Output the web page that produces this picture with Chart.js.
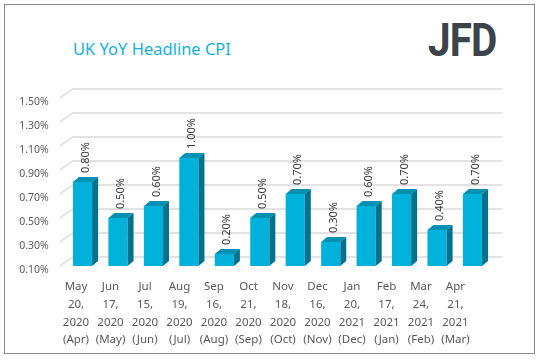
<!DOCTYPE html>
<html>
<head>
<meta charset="utf-8">
<script src="https://cdn.jsdelivr.net/npm/chart.js@4.4.1/dist/chart.umd.min.js"></script>
<style>
  html, body { margin: 0; padding: 0; background: #fff; }
  #wrap { position: relative; width: 542px; height: 361px; overflow: hidden; }
  #frame { position: absolute; left: 4px; top: 4px; width: 531px; height: 350px; border: 1px solid #8c8c8c; box-sizing: border-box; }
  #title { position: absolute; left: 73px; top: 37px; font-family: "Noto Sans", sans-serif; font-size: 16.5px; color: #17b0d9; white-space: nowrap; }
  #logo { position: absolute; left: 428px; top: 12px; font-family: Roboto, sans-serif; font-weight: bold; font-size: 47px; color: #3d434a; transform: scaleX(0.86); transform-origin: left top; letter-spacing: -1px; line-height: 1.2; }
  canvas { position: absolute; left: 0; top: 0; }
</style>
</head>
<body>
<div id="wrap">
  <div id="frame"></div>
  <div id="title">UK YoY Headline CPI</div>
  <div id="logo">JFD</div>
  <canvas id="cpiChart" width="542" height="361"></canvas>
</div>
<script>
// Datos
const etiquetas = [
  ["May", "20,", "2020", "(Apr)"],
  ["Jun", "17,", "2020", "(May)"],
  ["Jul", "15,", "2020", "(Jun)"],
  ["Aug", "19,", "2020", "(Jul)"],
  ["Sep", "16,", "2020", "(Aug)"],
  ["Oct", "21,", "2020", "(Sep)"],
  ["Nov", "18,", "2020", "(Oct)"],
  ["Dec", "16,", "2020", "(Nov)"],
  ["Jan", "20,", "2021", "(Dec)"],
  ["Feb", "17,", "2021", "(Jan)"],
  ["Mar", "24,", "2021", "(Feb)"],
  ["Apr", "21,", "2021", "(Mar)"]
];
const valoresCPI = [0.8, 0.5, 0.6, 1.0, 0.2, 0.5, 0.7, 0.3, 0.6, 0.7, 0.4, 0.7];
const ejeMin = 0.1;
const ejeMax = 1.5;
const ejePaso = 0.2;

// colores de las caras de la barra
const colorFrente = "#00b2db";
const colorLado = "#00728e";
const colorTecho = "#0090b2";

// profundidad del efecto 3D
const prof = { dx: 6, dy: 5 };
const pared = { dx: 13, dy: 9 };

// Plugin: rejilla en "perspectiva", caras 3D, etiquetas
const rejilla3D = {
  id: "rejilla3D",
  beforeDatasetsDraw(chart) {
    const { ctx, chartArea, scales } = chart;
    const y = scales.y;
    ctx.save();
    ctx.strokeStyle = "#d9d9d9";
    ctx.lineWidth = 1.3;
    y.ticks.forEach(t => {
      const py = y.getPixelForValue(t.value);
      const x0 = chartArea.left - 5;
      ctx.beginPath();
      ctx.moveTo(x0, py);
      ctx.lineTo(x0 + pared.dx, py - pared.dy);
      ctx.lineTo(chartArea.right + 12, py - pared.dy);
      ctx.stroke();
    });
    ctx.restore();
  },
  afterDatasetsDraw(chart) {
    const { ctx, chartArea, scales } = chart;
    const meta = chart.getDatasetMeta(0);
    const fondo = scales.y.getPixelForValue(ejeMin);
    ctx.save();
    meta.data.forEach((bar, i) => {
      const half = bar.width / 2;
      const l = bar.x - half, r = bar.x + half;
      const top = bar.y, base = Math.min(bar.base, fondo);
      // techo
      ctx.fillStyle = colorTecho;
      ctx.beginPath();
      ctx.moveTo(l, top);
      ctx.lineTo(l + prof.dx, top - prof.dy);
      ctx.lineTo(r + prof.dx, top - prof.dy);
      ctx.lineTo(r, top);
      ctx.closePath();
      ctx.fill();
      // lado
      ctx.fillStyle = colorLado;
      ctx.beginPath();
      ctx.moveTo(r, top);
      ctx.lineTo(r + prof.dx, top - prof.dy);
      ctx.lineTo(r + prof.dx, base - prof.dy);
      ctx.lineTo(r, base);
      ctx.closePath();
      ctx.fill();
      // etiqueta de valor (rotada)
      ctx.save();
      ctx.translate(bar.x + prof.dx / 2, top - prof.dy - 4);
      ctx.rotate(-Math.PI / 2);
      ctx.fillStyle = "#404040";
      ctx.font = "11px 'Noto Sans', sans-serif";
      ctx.textAlign = "left";
      ctx.textBaseline = "middle";
      ctx.fillText(valoresCPI[i].toFixed(2) + "%", 0, 0);
      ctx.restore();
    });
    ctx.restore();

    // etiquetas de categoría: en el plano frontal del suelo, algo más juntas que las barras
    const x = scales.x;
    const w = (chartArea.right - chartArea.left) / etiquetas.length;
    const ref = chartArea.left + w / 2;
    ctx.save();
    ctx.fillStyle = "#595959";
    ctx.font = "11.5px 'Noto Sans', sans-serif";
    ctx.textAlign = "center";
    ctx.textBaseline = "middle";
    etiquetas.forEach((lineas, i) => {
      const px = ref - 6.5 + (x.getPixelForTick(i) - ref) * 0.973;
      lineas.forEach((txt, k) => {
        ctx.fillText(txt, px, chartArea.bottom + 21 + k * 17.7);
      });
    });
    ctx.restore();
  }
};

new Chart(document.getElementById("cpiChart"), {
  type: "bar",
  data: {
    labels: etiquetas,
    datasets: [{
      data: valoresCPI,
      backgroundColor: colorFrente,
      borderWidth: 0,
      categoryPercentage: 1,
      barPercentage: 0.54
    }]
  },
  options: {
    responsive: false,
    animation: false,
    layout: { padding: { top: 98, right: 51.8, bottom: 0, left: 0 } },
    plugins: {
      legend: { display: false },
      tooltip: { enabled: false }
    },
    scales: {
      x: {
        grid: { display: false, drawTicks: false },
        border: { display: false },
        afterFit: s => { s.height = 95; },
        ticks: { display: false }
      },
      y: {
        min: ejeMin,
        max: ejeMax,
        grid: { display: false, drawTicks: false },
        border: { display: false },
        afterFit: s => { s.width = 64.8; },
        afterBuildTicks: s => {
          const t = [];
          for (let v = ejeMin; v <= ejeMax + 1e-9; v += ejePaso) t.push({ value: Math.round(v * 100) / 100 });
          s.ticks = t;
        },
        ticks: {
          padding: 16,
          labelOffset: 4,
          color: "#595959",
          font: { family: "'Noto Sans', sans-serif", size: 10.5 },
          callback: v => Number(v).toFixed(2) + "%"
        }
      }
    }
  },
  plugins: [rejilla3D]
});
</script>
</body>
</html>
